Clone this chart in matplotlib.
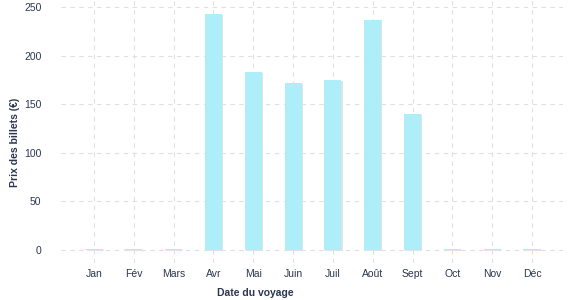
import matplotlib
matplotlib.use("Agg")
import matplotlib.pyplot as plt
import matplotlib.patheffects as pe

months = ["Jan", "Fév", "Mars", "Avr", "Mai", "Juin", "Juil", "Août", "Sept", "Oct", "Nov", "Déc"]
prices = [1, 1, 1, 243, 183, 172, 175, 237, 140, 1, 1, 1]
yticks = [0, 50, 100, 150, 200, 250]

text_color = "#2b3650"
plt.rcParams['font.family'] = ['Liberation Sans', 'DejaVu Sans']

fig = plt.figure(figsize=(5.77, 3.0), dpi=100)
ax = fig.add_axes([61/577, 37/300, 502/577, 263/300])

x = list(range(len(months)))
bars = ax.bar(x, prices, width=0.43, color="#aeeef8", zorder=3)
for b in bars:
    b.set_path_effects([pe.SimplePatchShadow(offset=(0.8, -0.6), shadow_rgbFace="#e2e2e2", alpha=1.0), pe.Normal()])

ax.set_xlim(-0.83, 11.78)
ax.set_ylim(-13.4, 257.2)
ax.set_xticks(x)
ax.set_xticklabels(months)
ax.set_yticks(yticks)
ax.grid(True, color="#e0e0e0", linestyle=(0, (4, 4)), linewidth=0.8, zorder=0)
for s in ax.spines.values():
    s.set_visible(False)
ax.tick_params(axis='both', length=0, labelsize=7.5, labelcolor=text_color)
ax.tick_params(axis='y', pad=14)
ax.tick_params(axis='x', pad=4)

fig.text(255/577, 1 - 293/300, "Date du voyage", ha="center", va="center",
         fontsize=7.5, fontweight="bold", color=text_color)
fig.text(15/577, 1 - 142/300, "Prix des billets (€)", ha="center", va="center",
         rotation=90, fontsize=7.5, fontweight="bold", color=text_color)

fig.savefig("out.png", dpi=100)
